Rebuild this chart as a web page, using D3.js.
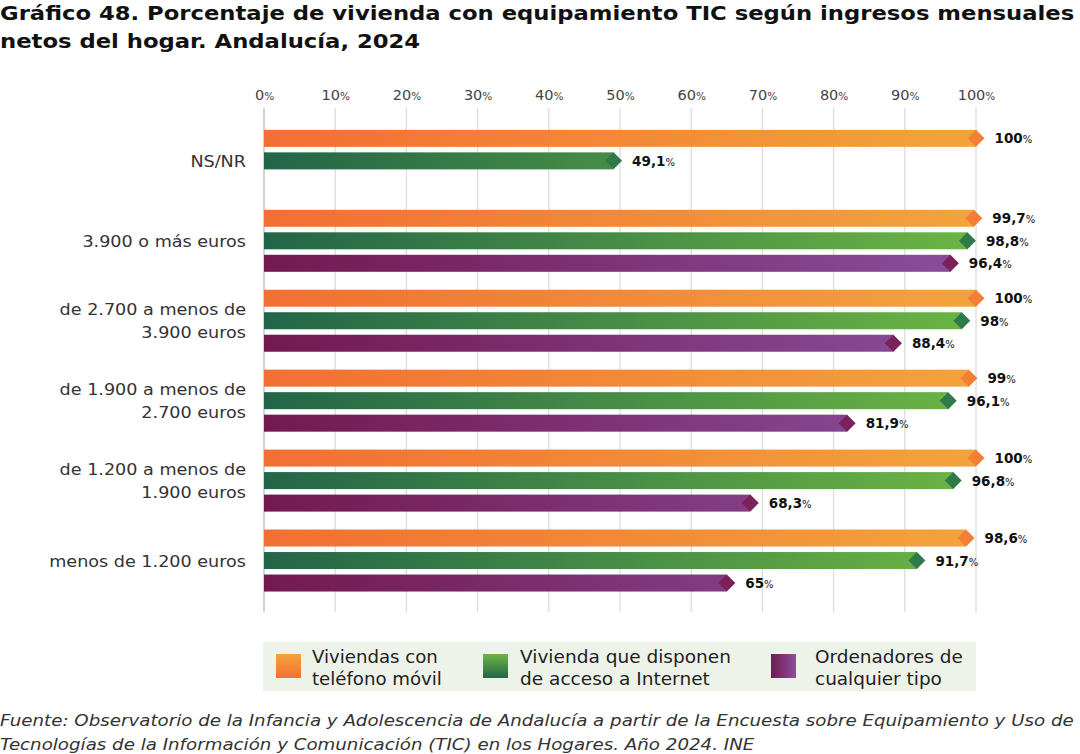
<!DOCTYPE html>
<html>
<head>
<meta charset="utf-8">
<script src="https://cdn.jsdelivr.net/npm/d3@7"></script>
<style>
  body { margin: 0; background: #fff; }
  svg { display: block; }
</style>
</head>
<body>
<svg id="chart" width="1080" height="754"></svg>
<script>
// Categories (top to bottom) and series values (%)
const categories = [
  "NS/NR",
  "3.900 o más euros",
  "de 2.700 a menos de\n3.900 euros",
  "de 1.900 a menos de\n2.700 euros",
  "de 1.200 a menos de\n1.900 euros",
  "menos de 1.200 euros"
]
const movil = [100, 99.7, 100, 99, 100, 98.6]
const internet = [49.1, 98.8, 98, 96.1, 96.8, 91.7]
const ordenadores = [null, 96.4, 88.4, 81.9, 68.3, 65]
const seriesNames = [
  "Viviendas con\nteléfono móvil",
  "Vivienda que disponen\nde acceso a Internet",
  "Ordenadores de\ncualquier tipo"
]
const xTicks = [0, 10, 20, 30, 40, 50, 60, 70, 80, 90, 100]

const titleLines = [
  "Gráfico 48. Porcentaje de vivienda con equipamiento TIC según ingresos mensuales",
  "netos del hogar. Andalucía, 2024"
]
const sourceLines = [
  "Fuente: Observatorio de la Infancia y Adolescencia de Andalucía a partir de la Encuesta sobre Equipamiento y Uso de",
  "Tecnologías de la Información y Comunicación (TIC) en los Hogares. Año 2024. INE"
]

const series = [
  { key: "movil", values: movil, from: "#f26f33", to: "#f3a43c", tip: "#f37f36" },
  { key: "internet", values: internet, from: "#236548", to: "#6db644", tip: "#2f7a4a" },
  { key: "ordenadores", values: ordenadores, from: "#731950", to: "#8a4f9f", tip: "#7a2259" }
]

const font = "'DejaVu Sans', sans-serif"
const svg = d3.select("#chart")
const defs = svg.append("defs")

// Montserrat (the original face) is wider than anything installed,
// so stretch text horizontally around its anchor to match widths
function stretch(sel, factor, ax) {
  sel.attr("transform", `translate(${ax},0) scale(${factor},1) translate(${-ax},0)`)
}

// Horizontal gradients for the bars
series.forEach((s) => {
  const g = defs.append("linearGradient")
    .attr("id", "grad-" + s.key)
    .attr("gradientUnits", "userSpaceOnUse")
    .attr("x1", 264).attr("x2", 985).attr("y1", 0).attr("y2", 0)
  g.append("stop").attr("offset", "0%").attr("stop-color", s.from)
  g.append("stop").attr("offset", "100%").attr("stop-color", s.to)
  // legend swatch gradient
  const lg = defs.append("linearGradient")
    .attr("id", "lgrad-" + s.key)
  if (s.key === "ordenadores") {
    lg.attr("x1", 0).attr("x2", 1).attr("y1", 0).attr("y2", 0)
  } else {
    lg.attr("x1", 0).attr("x2", 0).attr("y1", 1).attr("y2", 0)
  }
  lg.append("stop").attr("offset", "0%").attr("stop-color", s.from)
  lg.append("stop").attr("offset", "100%").attr("stop-color", s.to)
})

// Title
const title = svg.append("g").selectAll("text")
  .data(titleLines)
  .join("text")
  .attr("x", 0)
  .attr("y", (d, i) => 20 + i * 28)
  .style("font-family", font)
  .style("font-weight", "bold")
  .style("font-size", "19.5px")
  .style("fill", "#111")
  .text((d) => d)
stretch(title, 1075 / title.node().getComputedTextLength(), 0)

// Scales
const x = d3.scaleLinear().domain([0, 100]).range([264, 976])
const y0 = d3.scaleBand().domain(categories).range([120.9, 600.5])
const y1 = d3.scaleBand()
  .domain(series.map((s) => s.key))
  .range([-33.75, 33.75])
  .paddingInner(0.244)
  .paddingOuter(0.122)
const groupMid = (c) => y0(c) + y0.bandwidth() / 2
const barY = (c, k) => groupMid(c) + y1(k)
const h = y1.bandwidth()

// Grid lines
svg.append("g").selectAll("line")
  .data(xTicks)
  .join("line")
  .attr("x1", (d) => x(d)).attr("x2", (d) => x(d))
  .attr("y1", 108).attr("y2", 612)
  .attr("stroke", (d) => (d === 0 ? "#bdbdbd" : "#dcdcdc"))
  .attr("stroke-width", 1.3)

// Top axis labels
const axis = svg.append("g")
  .attr("transform", "translate(0,100)")
  .call(d3.axisTop(x).tickValues(xTicks).tickSize(0).tickFormat(""))
axis.select(".domain").remove()
axis.selectAll(".tick text").remove()
axis.selectAll(".tick")
  .append("text")
  .attr("text-anchor", "middle")
  .style("font-family", font)
  .style("font-size", "14.5px")
  .style("fill", "#444")
  .each(function (d) {
    const t = d3.select(this)
    t.append("tspan").text(d)
    t.append("tspan").style("font-size", "10.5px").text("%")
  })

// Category labels
const catLabels = svg.append("g").selectAll("text")
  .data(categories)
  .join("text")
  .attr("text-anchor", "end")
  .attr("x", 246)
  .style("font-family", font)
  .style("font-size", "16px")
  .style("fill", "#333")
  .each(function (d) {
    const lines = d.split("\n")
    const t = d3.select(this)
    const start = groupMid(d) + 6 - (lines.length - 1) * 11.5
    lines.forEach((line, i) => {
      t.append("tspan").attr("x", 246).attr("y", start + i * 23).text(line)
    })
  })
stretch(catLabels, 197 / catLabels.filter((d, i) => i === 5).node().getComputedTextLength(), 246)

// Bars
const fmt = (v) => String(v).replace(".", ",")
series.forEach((s) => {
  const rows = categories
    .map((c, i) => ({ cat: c, value: s.values[i] }))
    .filter((d) => d.value != null)
  const g = svg.append("g").attr("class", "series-" + s.key)
  const half = h / 2
  g.selectAll("rect")
    .data(rows)
    .join("rect")
    .attr("x", x(0))
    .attr("y", (d) => barY(d.cat, s.key))
    .attr("width", (d) => x(d.value) - x(0))
    .attr("height", h)
    .style("fill", "url(#grad-" + s.key + ")")
  // pointed tip: a diamond at the bar end
  g.selectAll("path")
    .data(rows)
    .join("path")
    .attr("d", (d) => {
      const cx = x(d.value)
      const cy = barY(d.cat, s.key) + half
      return `M${cx - half},${cy}L${cx},${cy - half}L${cx + half},${cy}L${cx},${cy + half}Z`
    })
    .style("fill", s.tip)
  g.selectAll("text")
    .data(rows)
    .join("text")
    .attr("x", (d) => x(d.value) + half + 10)
    .attr("y", (d) => barY(d.cat, s.key) + half + 5)
    .style("font-family", font)
    .style("font-size", "13.5px")
    .style("font-weight", "bold")
    .style("fill", "#111")
    .each(function (d) {
      const t = d3.select(this)
      t.append("tspan").text(fmt(d.value))
      t.append("tspan").style("font-size", "10px").style("font-weight", "normal").text("%")
    })
})

// Legend
const legend = svg.append("g")
legend.append("rect")
  .attr("x", 263).attr("y", 642)
  .attr("width", 713).attr("height", 49)
  .style("fill", "#eef3ea")
const legendX = [276, 483, 771]
const legendTextX = [36, 37, 44]
const legendWidths = [126, 211, 148]
series.forEach((s, i) => {
  const item = legend.append("g").attr("transform", `translate(${legendX[i]},654)`)
  item.append("rect")
    .attr("width", 25).attr("height", 24)
    .style("fill", "url(#lgrad-" + s.key + ")")
  const txt = item.append("text")
    .style("font-family", font)
    .style("font-size", "17.5px")
    .style("fill", "#222")
  txt.selectAll("tspan")
    .data(seriesNames[i].split("\n"))
    .join("tspan")
    .attr("x", legendTextX[i])
    .attr("y", (d, j) => 9 + j * 22)
    .text((d) => d)
  const firstLen = txt.select("tspan").node().getComputedTextLength()
  stretch(txt, legendWidths[i] / firstLen, legendTextX[i])
})

// Source
const source = svg.append("g").selectAll("text")
  .data(sourceLines)
  .join("text")
  .attr("x", 0)
  .attr("y", (d, i) => 726 + i * 24)
  .style("font-family", font)
  .style("font-style", "italic")
  .style("font-size", "15.5px")
  .style("fill", "#333")
  .text((d) => d)
stretch(source, 1075 / source.node().getComputedTextLength(), 0)
</script>
</body>
</html>
